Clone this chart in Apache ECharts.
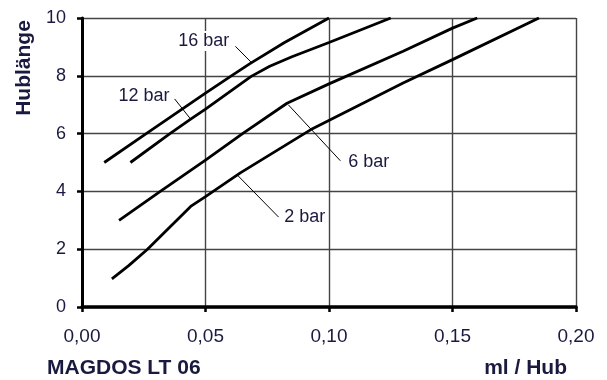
<!DOCTYPE html>
<html>
<head>
<meta charset="utf-8">
<script src="https://cdn.jsdelivr.net/npm/echarts@6/dist/echarts.min.js"></script>
<style>html,body{margin:0;padding:0;background:#fff}#c{width:607px;height:380px}</style>
</head>
<body>
<div id="c"></div>
<script>
// ---- data (x in ml/Hub, y = Hublänge) ----
const bar16 = [[0.009,5.0],[0.026,6.0],[0.05,7.4],[0.06,7.97],[0.068,8.42],[0.082,9.15],[0.1,10]];
const bar12 = [[0.0196,5.0],[0.0356,6.0],[0.044,6.5],[0.05,6.85],[0.0685,7.98],[0.076,8.33],[0.085,8.66],[0.1,9.15],[0.125,10]];
const bar6  = [[0.015,3.0],[0.0317,4.0],[0.05,5.08],[0.065,6.0],[0.083,7.05],[0.1,7.72],[0.13,8.85],[0.15,9.65],[0.16,10]];
const bar2  = [[0.0121,0.97],[0.0189,1.43],[0.0263,1.98],[0.044,3.48],[0.05,3.82],[0.0641,4.64],[0.0925,6.13],[0.13,7.75],[0.15,8.56],[0.185,10]];

const xTickLabels = ['0,00','0,05','0,10','0,15','0,20'];
const yTickLabels = ['0','2','4','6','8','10'];

const curveNames = ['16 bar','12 bar','6 bar','2 bar'];
const leaderFrom = [[0.0621,9.02],[0.0375,7.2],[0.0835,7.0],[0.0625,4.6]];
const leaderTo   = [[0.0686,8.46],[0.044,6.5],[0.1046,5.06],[0.0796,3.11]];
const labelAt    = [[0.0600,9.2],[0.0358,7.29],[0.1074,5.0],[0.0815,3.1]];
const labelSide  = ['left','left','right','right'];

const textColor = '#1a1a40';
const fontFam = '"Liberation Sans", Arial, sans-serif';
const curves = [bar16, bar12, bar6, bar2];

const series = curves.map((d, i) => ({
  type: 'line',
  name: curveNames[i],
  data: d,
  showSymbol: false,
  symbol: 'none',
  lineStyle: { color: '#000', width: 2.8 },
  z: 3,
  markLine: {
    silent: true,
    symbol: 'none',
    lineStyle: { color: '#000', width: 1, type: 'solid' },
    label: { show: false },
    data: [[{ coord: leaderFrom[i] }, { coord: leaderTo[i] }]]
  },
  markPoint: {
    silent: true,
    symbol: 'rect',
    symbolSize: 0,
    data: [{ coord: labelAt[i], name: curveNames[i], value: curveNames[i] }],
    label: {
      show: true,
      formatter: curveNames[i],
      position: labelSide[i],
      distance: 0,
      color: textColor,
      fontFamily: fontFam,
      fontSize: 18,
      backgroundColor: '#fff',
      padding: [1, 1, 1, 1]
    }
  }
}));

const chart = echarts.init(document.getElementById('c'), null, { renderer: 'canvas' });
chart.setOption({
  animation: false,
  backgroundColor: '#fff',
  grid: { left: 82, right: 31, top: 18, bottom: 73, containLabel: false },
  xAxis: {
    type: 'value', min: 0, max: 0.2, interval: 0.05,
    axisLine: { show: true, onZero: false, lineStyle: { color: '#000', width: 3.5 } },
    axisTick: { show: true, length: 5, lineStyle: { color: '#000', width: 2.5 } },
    axisLabel: {
      margin: 20, color: textColor, fontSize: 19, fontFamily: fontFam,
      formatter: v => xTickLabels[Math.round(v / 0.05)]
    },
    splitLine: { show: true, lineStyle: { color: '#444', width: 1.4 } }
  },
  yAxis: {
    type: 'value', min: 0, max: 10, interval: 2,
    axisLine: { show: true, onZero: false, lineStyle: { color: '#000', width: 3 } },
    axisTick: { show: true, length: 5, lineStyle: { color: '#000', width: 2.5 } },
    axisLabel: {
      margin: 16, color: textColor, fontSize: 18, fontFamily: fontFam,
      formatter: v => yTickLabels[Math.round(v / 2)]
    },
    splitLine: { show: true, lineStyle: { color: '#444', width: 1.4 } }
  },
  graphic: [
    { type: 'text', x: 24, y: 68, rotation: Math.PI / 2,
      style: { text: 'Hublänge', fill: textColor, font: 'bold 21px ' + fontFam, align: 'center', verticalAlign: 'middle' } },
    { type: 'text', x: 47, y: 368,
      style: { text: 'MAGDOS LT 06', fill: textColor, font: 'bold 21px ' + fontFam, align: 'left', verticalAlign: 'middle' } },
    { type: 'text', x: 567, y: 368,
      style: { text: 'ml / Hub', fill: textColor, font: 'bold 21px ' + fontFam, align: 'right', verticalAlign: 'middle' } }
  ],
  series: series
});
</script>
</body>
</html>
